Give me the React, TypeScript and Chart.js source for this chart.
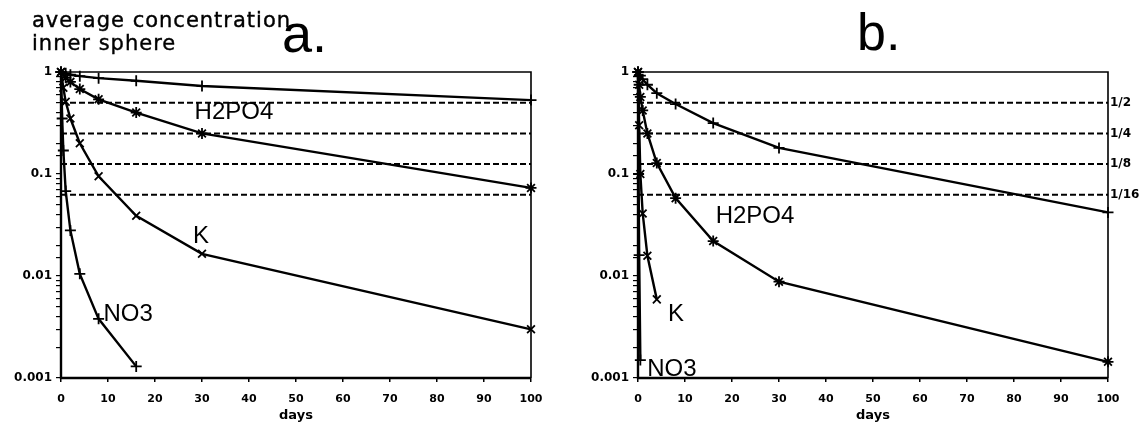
import React, { useEffect, useRef } from 'react';
import { Chart, registerables } from 'chart.js';

Chart.register(...registerables);

// ---------- data ----------
const guideLevels = [0.5, 0.25, 0.125, 0.0625];
const guideLabels = ['1/2', '1/4', '1/8', '1/16'];
const yDecadeLabels: Record<string, string> = { '0': '1', '-1': '0.1', '-2': '0.01', '-3': '0.001' };
const xAxisTitle = 'days';

// panel a
const aUpperDays = [0, 1, 2, 4, 8, 16, 30, 100];
const aUpperValues = [1, 0.97, 0.94, 0.91, 0.87, 0.82, 0.73, 0.53];
const aH2PO4Days = [0, 1, 2, 4, 8, 16, 30, 100];
const aH2PO4Values = [1, 0.88, 0.8, 0.68, 0.54, 0.4, 0.25, 0.073];
const aKDays = [0, 0.5, 1, 2, 4, 8, 16, 30, 100];
const aKValues = [1, 0.7, 0.51, 0.35, 0.2, 0.095, 0.039, 0.0165, 0.003];
const aNO3Days = [0, 0.25, 0.5, 1, 2, 4, 8, 16];
const aNO3Values = [1, 0.35, 0.17, 0.068, 0.028, 0.0105, 0.0038, 0.0013];

// panel b
const bUpperDays = [0, 0.5, 1, 2, 4, 8, 16, 30, 100];
const bUpperValues = [1, 0.92, 0.85, 0.75, 0.62, 0.485, 0.316, 0.18, 0.042];
const bH2PO4Days = [0, 0.25, 0.5, 1, 2, 4, 8, 16, 30, 100];
const bH2PO4Values = [1, 0.75, 0.57, 0.42, 0.25, 0.128, 0.058, 0.022, 0.0088, 0.00144];
const bKDays = [0, 0.25, 0.5, 1, 2, 4];
const bKValues = [1, 0.3, 0.1, 0.041, 0.0158, 0.0059];
const bNO3Days = [0, 0.125, 0.25, 0.5];
const bNO3Values = [1, 0.1, 0.016, 0.0015];

// in-plot labels (anchored in data units)
const aLabelTexts = ['H2PO4', 'K', 'NO3'];
const aLabelDays = [36.8, 29.8, 14.3];
const aLabelValues = [0.405, 0.0246, 0.0042];
const bLabelTexts = ['H2PO4', 'K', 'NO3'];
const bLabelDays = [24.9, 8.1, 7.2];
const bLabelValues = [0.0388, 0.0042, 0.00122];

// ---------- chart helpers ----------
const xTickFont = { family: 'DejaVu Sans', size: 11, weight: 'bold' as const };
const yTickFont = { family: 'DejaVu Sans', size: 12, weight: 'bold' as const };

type Series = { days: number[]; values: number[]; marker: string };
type Panel = {
  series: Series[];
  labelTexts: string[];
  labelDays: number[];
  labelValues: number[];
  yWidth: number;
  rightPad: number;
  showRight: boolean;
};

const framePlugin = {
  id: 'frame',
  beforeDatasetsDraw(chart: any) {
    const { ctx, chartArea } = chart;
    const { left, right, top, bottom } = chartArea;
    ctx.save();
    ctx.strokeStyle = '#000';
    ctx.lineWidth = 1.6;
    ctx.beginPath();
    ctx.moveTo(left, top);
    ctx.lineTo(right, top);
    ctx.lineTo(right, bottom);
    ctx.stroke();
    ctx.lineWidth = 2.4;
    ctx.beginPath();
    ctx.moveTo(left, top);
    ctx.lineTo(left, bottom);
    ctx.lineTo(right, bottom);
    ctx.stroke();
    ctx.restore();
  },
};

const labelPlugin = {
  id: 'curveLabels',
  afterDatasetsDraw(chart: any, _args: any, opts: any) {
    const { ctx, scales } = chart;
    ctx.save();
    ctx.fillStyle = '#000';
    ctx.font = '24px "Liberation Sans"';
    ctx.textAlign = 'center';
    ctx.textBaseline = 'middle';
    (opts.texts || []).forEach((t: string, i: number) => {
      const px = scales.x.getPixelForValue(opts.days[i]);
      const py = scales.y.getPixelForValue(opts.values[i]);
      ctx.fillText(t, px, py);
    });
    ctx.restore();
  },
};

function decadeLabel(v: number): string {
  const e = Math.log10(v);
  const r = Math.round(e);
  if (Math.abs(e - r) < 1e-6) return yDecadeLabels[String(r)] ?? '';
  return '';
}

function buildConfig(panel: Panel): any {
  const datasets: any[] = [];
  guideLevels.forEach((level) => {
    datasets.push({
      data: [
        { x: 0, y: level },
        { x: 100, y: level },
      ],
      borderColor: '#000',
      borderWidth: 2,
      borderDash: [6, 3],
      pointRadius: 0,
      fill: false,
    });
  });
  panel.series.forEach((s) => {
    datasets.push({
      data: s.days.map((d, i) => ({ x: d, y: s.values[i] })),
      borderColor: '#000',
      borderWidth: 2.4,
      pointStyle: s.marker,
      pointRadius: 5.5,
      pointBorderWidth: 1.8,
      pointBorderColor: '#000',
      pointBackgroundColor: '#000',
      tension: 0,
      fill: false,
      clip: false,
    });
  });

  const scales: any = {
    x: {
      type: 'linear',
      min: 0,
      max: 100,
      ticks: { stepSize: 10, font: xTickFont, color: '#000', padding: 11, maxRotation: 0 },
      grid: { display: true, drawOnChartArea: false, drawTicks: true, tickLength: 4, color: '#000', lineWidth: 1.5 },
      border: { display: false },
      title: {
        display: true,
        text: xAxisTitle,
        font: { family: 'DejaVu Sans', size: 13, weight: 'bold' },
        color: '#000',
        padding: { top: 0, bottom: 5 },
      },
      afterFit: (s: any) => {
        s.height = 50;
      },
    },
    y: {
      type: 'logarithmic',
      min: 0.001,
      max: 1,
      ticks: {
        font: yTickFont,
        color: '#000',
        padding: 4,
        autoSkip: false,
        callback: (v: any) => decadeLabel(Number(v)),
      },
      grid: { display: true, drawOnChartArea: false, tickLength: 5, color: '#000', lineWidth: 1.2 },
      border: { display: false },
      afterFit: (s: any) => {
        s.width = panel.yWidth;
      },
    },
  };
  if (panel.showRight) {
    scales.yRight = {
      type: 'logarithmic',
      position: 'right',
      min: 0.001,
      max: 1,
      afterBuildTicks: (s: any) => {
        s.ticks = guideLevels.map((v) => ({ value: v }));
      },
      ticks: {
        font: { family: 'DejaVu Sans', size: 12, weight: 'bold' },
        color: '#000',
        padding: 2,
        autoSkip: false,
        callback: (_v: any, i: number) => guideLabels[i],
      },
      grid: { display: false, drawTicks: false },
      border: { display: false },
      afterFit: (s: any) => {
        s.width = 32;
      },
    };
  }

  return {
    type: 'line',
    data: { datasets },
    plugins: [framePlugin, labelPlugin],
    options: {
      responsive: false,
      animation: false,
      layout: { padding: { left: 0, right: panel.rightPad, top: 72, bottom: 0 } },
      plugins: {
        legend: { display: false },
        tooltip: { enabled: false },
        curveLabels: { texts: panel.labelTexts, days: panel.labelDays, values: panel.labelValues },
      },
      scales,
    },
  };
}

const panelA: Panel = {
  series: [
    { days: aUpperDays, values: aUpperValues, marker: 'cross' },
    { days: aH2PO4Days, values: aH2PO4Values, marker: 'star' },
    { days: aKDays, values: aKValues, marker: 'crossRot' },
    { days: aNO3Days, values: aNO3Values, marker: 'cross' },
  ],
  labelTexts: aLabelTexts,
  labelDays: aLabelDays,
  labelValues: aLabelValues,
  yWidth: 61,
  rightPad: 39,
  showRight: false,
};

const panelB: Panel = {
  series: [
    { days: bUpperDays, values: bUpperValues, marker: 'cross' },
    { days: bH2PO4Days, values: bH2PO4Values, marker: 'star' },
    { days: bKDays, values: bKValues, marker: 'crossRot' },
    { days: bNO3Days, values: bNO3Values, marker: 'cross' },
  ],
  labelTexts: bLabelTexts,
  labelDays: bLabelDays,
  labelValues: bLabelValues,
  yWidth: 68,
  rightPad: 0,
  showRight: true,
};

function PanelChart({ panel, left }: { panel: Panel; left: number }) {
  const ref = useRef<HTMLCanvasElement | null>(null);
  useEffect(() => {
    if (!ref.current) return;
    const chart = new Chart(ref.current, buildConfig(panel));
    return () => chart.destroy();
  }, [panel]);
  return (
    <canvas
      ref={ref}
      width={570}
      height={428}
      style={{ position: 'absolute', left, top: 0, width: 570, height: 428 }}
    />
  );
}

export default function App() {
  return (
    <div style={{ position: 'absolute', left: 0, top: 0, width: 1140, height: 428, background: '#fff', overflow: 'hidden' }}>
      <PanelChart panel={panelA} left={0} />
      <PanelChart panel={panelB} left={570} />
      <div
        style={{
          position: 'absolute',
          left: 32,
          top: 9,
          fontFamily: 'DejaVu Sans',
          fontSize: 21,
          lineHeight: '23px',
          letterSpacing: 1,
          color: '#000',
          whiteSpace: 'pre',
          WebkitTextStroke: '0.4px #000',
        }}
      >
        {'average concentration\ninner sphere'}
      </div>
      <div style={{ position: 'absolute', left: 282, top: 8, fontFamily: 'Liberation Sans', fontSize: 54, lineHeight: '50px', color: '#000' }}>
        a.
      </div>
      <div style={{ position: 'absolute', left: 857, top: 7, fontFamily: 'Liberation Sans', fontSize: 52, lineHeight: '50px', color: '#000' }}>
        b.
      </div>
    </div>
  );
}
